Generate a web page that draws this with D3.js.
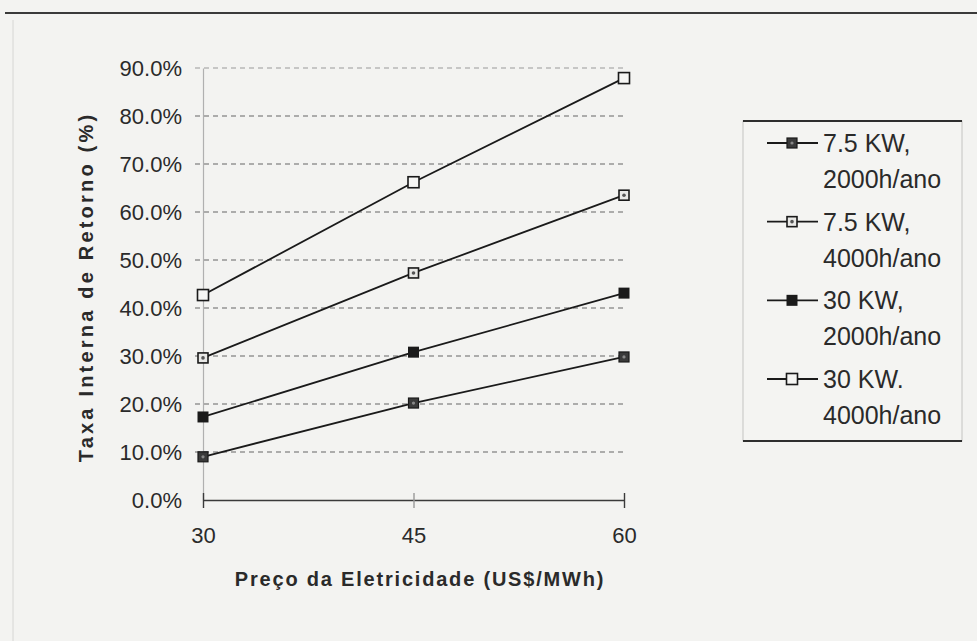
<!DOCTYPE html>
<html>
<head>
<meta charset="utf-8">
<script src="https://cdn.jsdelivr.net/npm/d3@7/dist/d3.min.js"></script>
<style>
  html, body { margin: 0; padding: 0; background: #f3f3f1; }
  svg { display: block; font-family: "Liberation Sans", Arial, sans-serif; }
</style>
</head>
<body>
<div id="chart"></div>
<script>
// data
const prices = [30, 45, 60];
const yTicks = [0, 0.1, 0.2, 0.3, 0.4, 0.5, 0.6, 0.7, 0.8, 0.9];

const kw75h2000 = [0.090, 0.202, 0.298];
const kw75h4000 = [0.296, 0.473, 0.635];
const kw30h2000 = [0.173, 0.308, 0.431];
const kw30h4000 = [0.427, 0.662, 0.879];

const seriesNames = [
	['7.5 KW,', '2000h/ano'],
	['7.5 KW,', '4000h/ano'],
	['30 KW,', '2000h/ano'],
	['30 KW.', '4000h/ano'],
];
const seriesValues = [kw75h2000, kw75h4000, kw30h2000, kw30h4000];
const markerTypes = ['dot', 'dotted', 'filled', 'open'];

const width = 977, height = 641;

let svg = d3.select('#chart').append('svg')
	.attr('width', width)
	.attr('height', height);

svg.append('rect')
	.attr('width', width)
	.attr('height', height)
	.attr('fill', '#f3f3f1');

// page rule on top and faint scan edge
svg.append('line')
	.attr('x1', 5).attr('x2', width)
	.attr('y1', 13).attr('y2', 13)
	.attr('stroke', '#3a3a3a')
	.attr('stroke-width', 2);
svg.append('line')
	.attr('x1', 13).attr('x2', 13)
	.attr('y1', 20).attr('y2', height)
	.attr('stroke', '#d6d6d4')
	.attr('stroke-width', 1);

//Scale
let x = d3.scaleLinear()
	.domain([30, 60])
	.range([203, 624]);
let y = d3.scaleLinear()
	.domain([0, 0.9])
	.range([500, 68]);

// grid
svg.append('g')
	.attr('class', 'grid')
	.selectAll('line')
	.data(yTicks.filter(d => d > 0))
	.enter().append('line')
	.attr('x1', 195)
	.attr('x2', x(60))
	.attr('y1', d => y(d))
	.attr('y2', d => y(d))
	.attr('stroke', d => d === 0.9 ? '#9a9a9a' : '#666')
	.attr('stroke-width', 1.2)
	.attr('stroke-dasharray', '5,4');

// y axis
let axisY = svg.append('g')
	.attr('class', 'y-axis')
	.attr('transform', `translate(${x(30)},0)`)
	.call(d3.axisLeft(y)
		.tickValues(yTicks)
		.tickFormat(d3.format('.1%'))
		.tickSize(0)
		.tickPadding(21));
axisY.select('.domain')
	.attr('stroke', '#b0b0b0')
	.attr('stroke-width', 1.2);
axisY.selectAll('text')
	.attr('font-size', 22)
	.attr('fill', '#2a2a2a')
	.attr('font-family', '"Liberation Sans", Arial, sans-serif');

// x axis
let axisX = svg.append('g')
	.attr('class', 'x-axis')
	.attr('transform', `translate(0,${y(0)})`)
	.call(d3.axisBottom(x)
		.tickValues(prices)
		.tickSize(8)
		.tickSizeOuter(0)
		.tickPadding(19));
axisX.select('.domain')
	.attr('stroke', '#3a3a3a')
	.attr('stroke-width', 1.6);
axisX.selectAll('.tick line')
	.attr('y1', -7)
	.attr('stroke', d => d === 45 ? '#999' : '#3a3a3a')
	.attr('stroke-width', 1.4);
axisX.selectAll('text')
	.attr('font-size', 22)
	.attr('fill', '#2a2a2a')
	.attr('font-family', '"Liberation Sans", Arial, sans-serif');

// axis titles
svg.append('text')
	.attr('transform', 'translate(86,287) rotate(-90)')
	.attr('text-anchor', 'middle')
	.attr('dy', '0.36em')
	.attr('font-size', 20)
	.attr('font-weight', 'bold')
	.attr('letter-spacing', 3.2)
	.attr('fill', '#2a2a2a')
	.text('Taxa Interna de Retorno (%)');

svg.append('text')
	.attr('x', 420)
	.attr('y', 586)
	.attr('text-anchor', 'middle')
	.attr('font-size', 20)
	.attr('font-weight', 'bold')
	.attr('letter-spacing', 1.8)
	.attr('fill', '#2a2a2a')
	.text('Preço da Eletricidade (US$/MWh)');

// markers
function drawMarker(g, type, cx, cy) {
	if (type === 'dot') {
		g.append('rect')
			.attr('x', cx - 5).attr('y', cy - 5)
			.attr('width', 10).attr('height', 10)
			.attr('fill', '#3a3a3a')
			.attr('stroke', '#1a1a1a')
			.attr('stroke-width', 1.2);
		g.append('circle')
			.attr('cx', cx).attr('cy', cy).attr('r', 1.6)
			.attr('fill', '#888');
	} else if (type === 'dotted') {
		g.append('rect')
			.attr('x', cx - 5).attr('y', cy - 5)
			.attr('width', 10).attr('height', 10)
			.attr('fill', '#e8e8e6')
			.attr('stroke', '#1a1a1a')
			.attr('stroke-width', 1.6);
		g.append('circle')
			.attr('cx', cx).attr('cy', cy).attr('r', 1.8)
			.attr('fill', '#555');
	} else if (type === 'filled') {
		g.append('rect')
			.attr('x', cx - 5.5).attr('y', cy - 5.5)
			.attr('width', 11).attr('height', 11)
			.attr('fill', '#1a1a1a');
	} else {
		g.append('rect')
			.attr('x', cx - 5.5).attr('y', cy - 5.5)
			.attr('width', 11).attr('height', 11)
			.attr('fill', '#f6f6f4')
			.attr('stroke', '#1a1a1a')
			.attr('stroke-width', 1.6);
	}
}

// lines
let line = d3.line()
	.x((d, i) => x(prices[i]))
	.y(d => y(d));

let lineGroup = svg.append('g').attr('class', 'line-group');
seriesValues.forEach((vals, si) => {
	lineGroup.append('path')
		.datum(vals)
		.attr('d', line)
		.attr('fill', 'none')
		.attr('stroke', '#1a1a1a')
		.attr('stroke-width', 1.8);
	let mg = lineGroup.append('g');
	vals.forEach((v, i) => drawMarker(mg, markerTypes[si], x(prices[i]), y(v)));
});

// legend
let legend = svg.append('g').attr('class', 'legend');
legend.append('rect')
	.attr('x', 743).attr('y', 121)
	.attr('width', 219).attr('height', 320)
	.attr('fill', '#f4f4f2')
	.attr('stroke', '#c4c4c2')
	.attr('stroke-width', 1);
[121, 441].forEach(ly => legend.append('line')
	.attr('x1', 743).attr('x2', 962)
	.attr('y1', ly).attr('y2', ly)
	.attr('stroke', '#2e2e2e')
	.attr('stroke-width', 2));

let legendY = d3.scaleLinear().domain([0, 3]).range([143, 379]);
seriesNames.forEach((name, si) => {
	let cy = legendY(si);
	let g = legend.append('g');
	g.append('line')
		.attr('x1', 767).attr('x2', 818)
		.attr('y1', cy).attr('y2', cy)
		.attr('stroke', '#1a1a1a')
		.attr('stroke-width', 1.8);
	drawMarker(g, markerTypes[si], 792, cy);
	let t = g.append('text')
		.attr('x', 823)
		.attr('y', cy + 9)
		.attr('font-size', 25)
		.attr('fill', '#2a2a2a');
	t.append('tspan').attr('x', 823).text(name[0]);
	t.append('tspan').attr('x', 823).attr('dy', 36).text(name[1]);
});
</script>
</body>
</html>
